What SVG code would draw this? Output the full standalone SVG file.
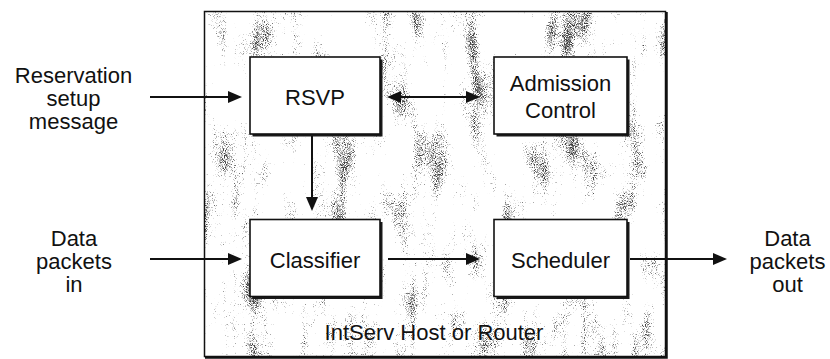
<svg xmlns="http://www.w3.org/2000/svg" width="830" height="359" viewBox="0 0 830 359">
  <style>
    text { font-family: "Liberation Sans", Arial, Helvetica, sans-serif; font-size: 22px; fill: #111; text-anchor: middle; }
    .box { fill: #fff; stroke: #111; stroke-width: 1.6; }
    .shadow { fill: #1a1a1a; }
    .wire { fill: none; stroke: #111; stroke-width: 2; }
  </style>
  <defs>
    <marker id="head" viewBox="0 0 14 12" markerWidth="14" markerHeight="12" refX="6" refY="6" markerUnits="userSpaceOnUse" orient="auto-start-reverse">
      <path d="M0,0 L14,6 L0,12 z" fill="#111"/>
    </marker>
    <!-- sparse grey speckle, denser in tall blotches -->
    <filter id="speckle" x="0" y="0" width="100%" height="100%" color-interpolation-filters="sRGB">
      <feTurbulence type="fractalNoise" baseFrequency="1.1" numOctaves="1" seed="4" result="fine"/>
      <feColorMatrix in="fine" type="matrix" values="0 0 0 0 0  0 0 0 0 0  0 0 0 0 0  1 0 0 0 0" result="fineA"/>
      <feTurbulence type="fractalNoise" baseFrequency="0.045 0.016" numOctaves="2" seed="11" result="blob"/>
      <feColorMatrix in="blob" type="matrix" values="0 0 0 0 0  0 0 0 0 0  0 0 0 0 0  1 0 0 0 0" result="blobA"/>
      <feComposite in="fineA" in2="blobA" operator="arithmetic" k1="0" k2="1" k3="1" k4="-1.17" result="sum"/>
      <feColorMatrix in="sum" type="matrix" values="0 0 0 0 0.25  0 0 0 0 0.25  0 0 0 0 0.25  0 0 0 4 0"/>
    </filter>
  </defs>

  <!-- host / router enclosure -->
  <g id="host">
    <rect x="204.5" y="11.5" width="461" height="345" fill="#fff"/>
    <rect x="205.5" y="12.5" width="459" height="343" fill="#fff" filter="url(#speckle)"/>
    <rect x="204.5" y="11.5" width="461" height="345" fill="none" stroke="#111" stroke-width="1.5"/>
    <path d="M666.5,12 V357.5 H205" fill="none" stroke="#111" stroke-width="2.5"/>
    <text x="434" y="339.5">IntServ Host or Router</text>
  </g>

  <g id="rsvp">
    <rect class="shadow" x="252.5" y="59.5" width="130" height="77"/>
    <rect class="box" x="250" y="57" width="130" height="77"/>
    <text x="315" y="105">RSVP</text>
  </g>

  <g id="admission-control">
    <rect class="shadow" x="496.5" y="59.5" width="133" height="77"/>
    <rect class="box" x="494" y="57" width="133" height="77"/>
    <text x="560.5" y="91">Admission</text>
    <text x="560.5" y="117.5">Control</text>
  </g>

  <g id="classifier">
    <rect class="shadow" x="252.5" y="222" width="130" height="77"/>
    <rect class="box" x="250" y="219.5" width="130" height="77"/>
    <text x="315" y="267.5">Classifier</text>
  </g>

  <g id="scheduler">
    <rect class="shadow" x="496.5" y="222" width="133" height="77"/>
    <rect class="box" x="494" y="219.5" width="133" height="77"/>
    <text x="560.5" y="267.5">Scheduler</text>
  </g>

  <g id="reservation-setup">
    <text x="73.5" y="82.5">Reservation</text>
    <text x="73.5" y="105.5">setup</text>
    <text x="73.5" y="128.5">message</text>
  </g>

  <g id="data-in">
    <text x="74" y="246">Data</text>
    <text x="74" y="269">packets</text>
    <text x="74" y="292">in</text>
  </g>

  <g id="data-out">
    <text x="787.5" y="246">Data</text>
    <text x="787.5" y="269">packets</text>
    <text x="787.5" y="292">out</text>
  </g>

  <g id="connectors">
    <line class="wire" x1="150" y1="97" x2="234" y2="97" marker-end="url(#head)"/>
    <line class="wire" x1="395" y1="97" x2="472" y2="97" marker-start="url(#head)" marker-end="url(#head)"/>
    <line class="wire" x1="312" y1="136" x2="312" y2="203" marker-end="url(#head)"/>
    <line class="wire" x1="150" y1="259" x2="234" y2="259" marker-end="url(#head)"/>
    <line class="wire" x1="388" y1="259" x2="472" y2="259" marker-end="url(#head)"/>
    <line class="wire" x1="630" y1="259" x2="719" y2="259" marker-end="url(#head)"/>
  </g>
</svg>
